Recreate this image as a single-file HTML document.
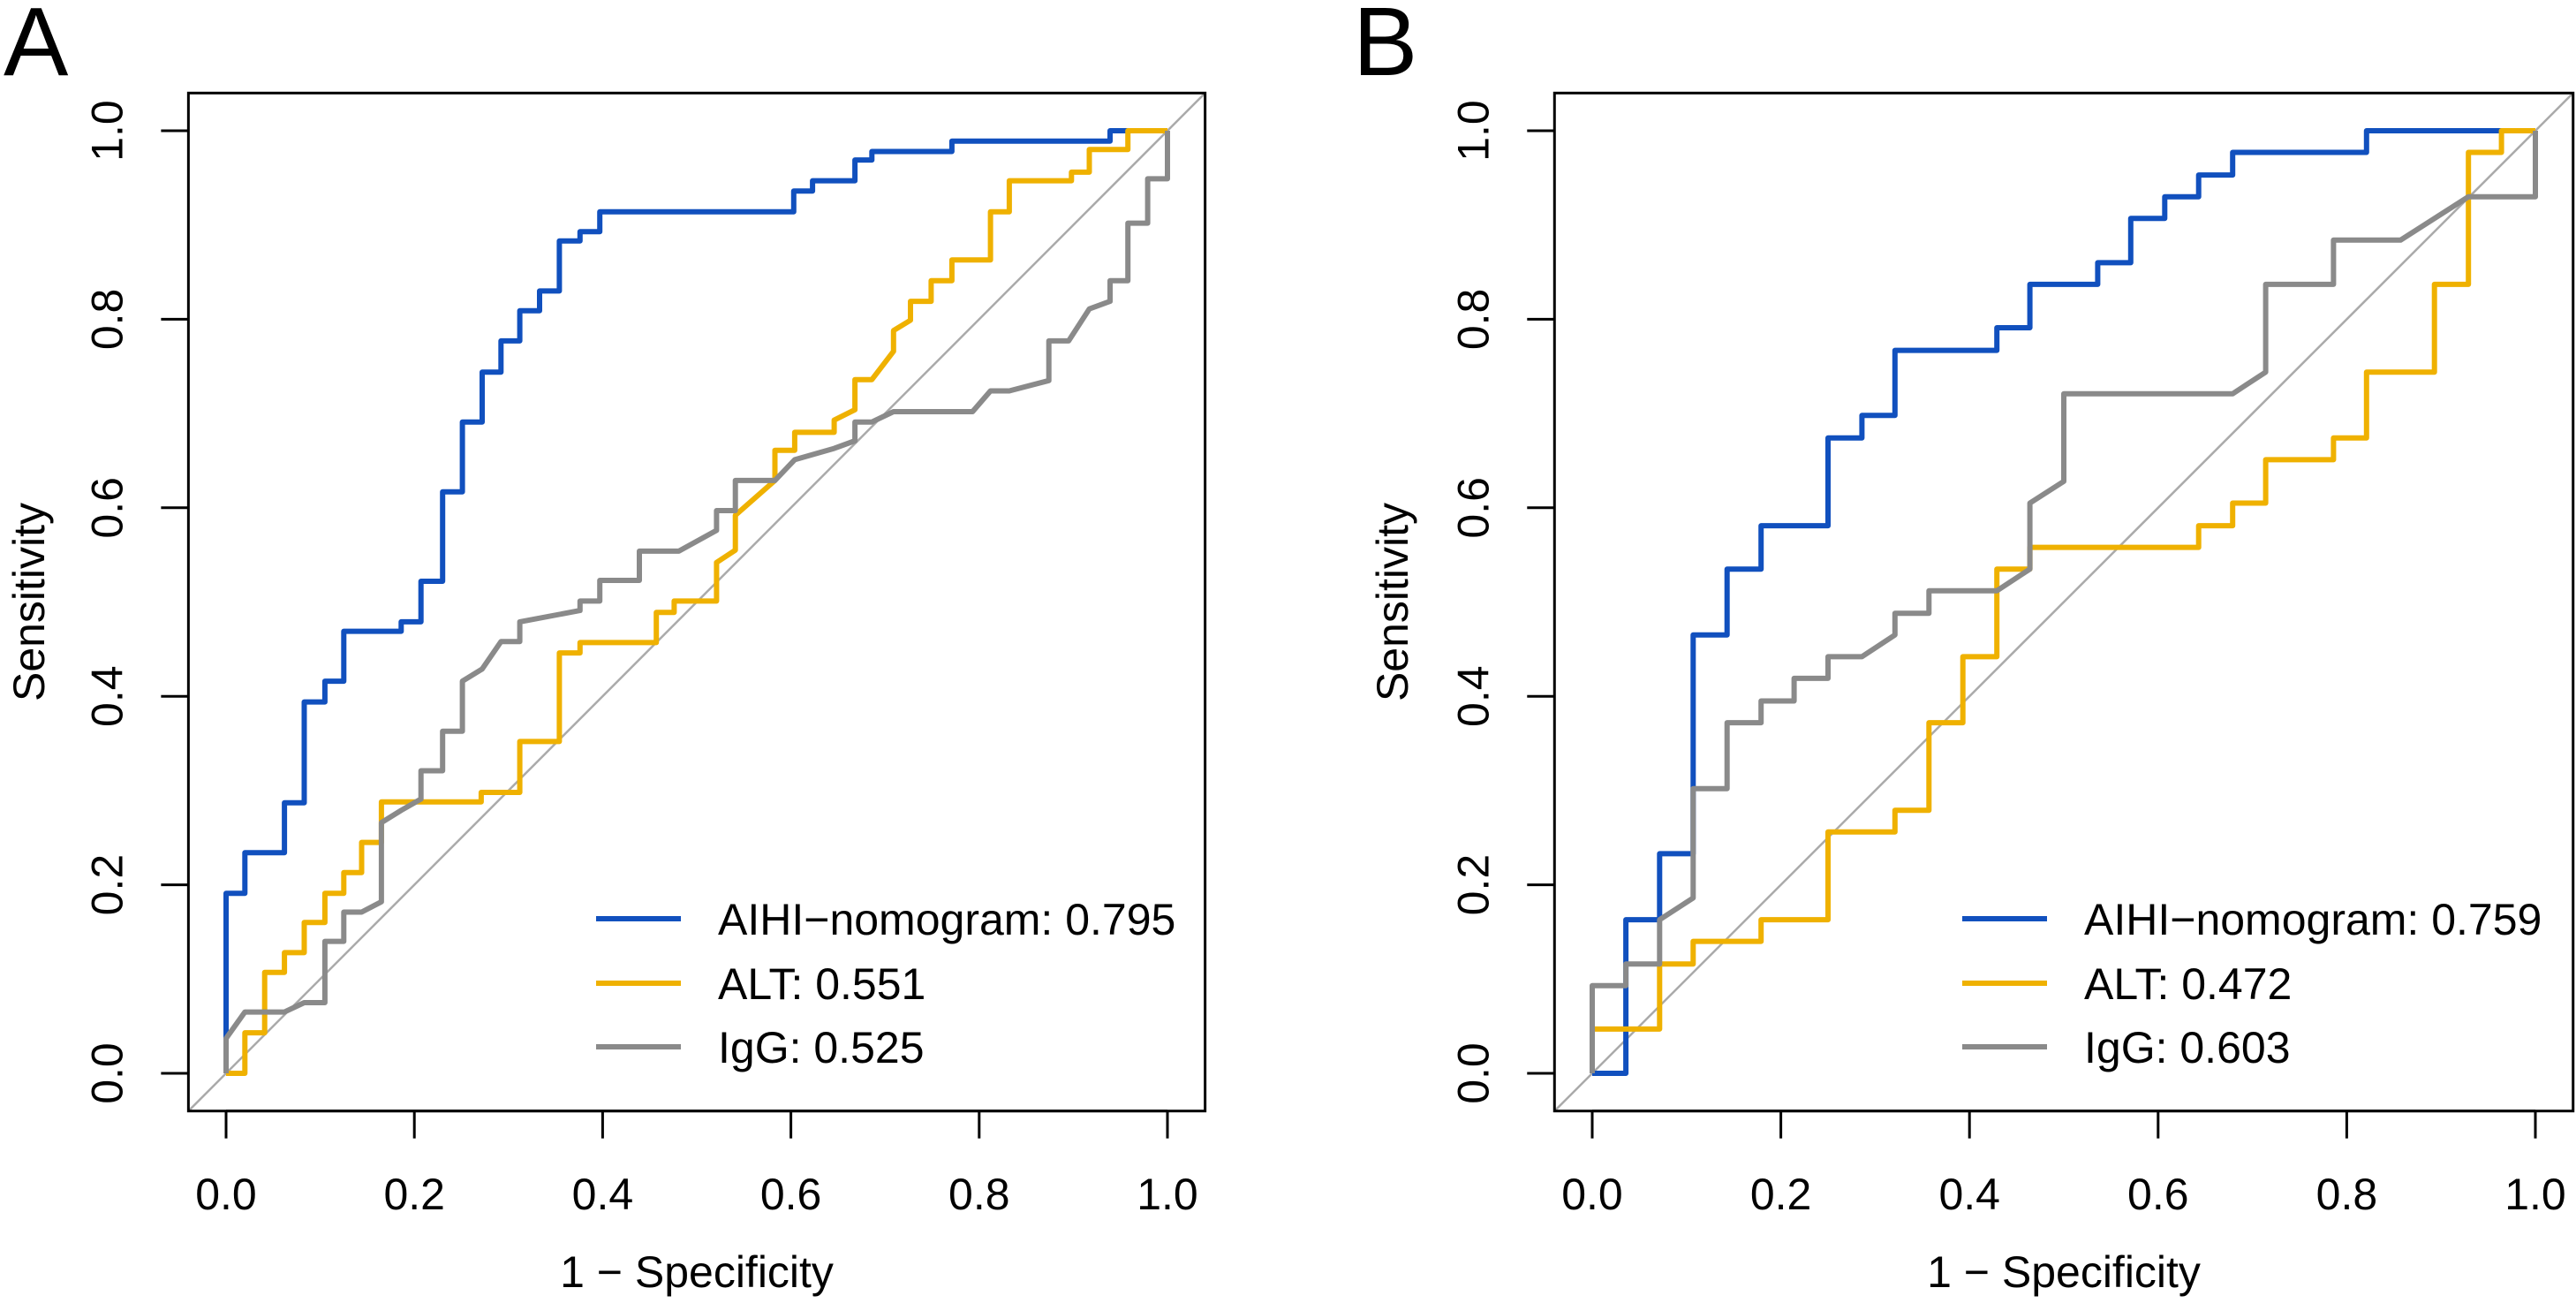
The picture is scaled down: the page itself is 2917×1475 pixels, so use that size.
<!DOCTYPE html>
<html><head><meta charset="utf-8"><style>
html,body{margin:0;padding:0;background:#fff;}
svg{display:block;font-family:"Liberation Sans",Arial,sans-serif;}
</style></head><body>
<svg id="chart" width="2917" height="1475" viewBox="0 0 2917 1475" xmlns="http://www.w3.org/2000/svg"></svg>
<script>
// ---- Data ----
const xTicks = [0, 0.2, 0.4, 0.6, 0.8, 1.0];
const xTickLabels = ["0.0","0.2","0.4","0.6","0.8","1.0"];
const yTicks = [0, 0.2, 0.4, 0.6, 0.8, 1.0];
const yTickLabels = ["0.0","0.2","0.4","0.6","0.8","1.0"];

const aBlueFpr = [0,0,0.020,0.020,0.062,0.062,0.083,0.083,0.105,0.105,0.125,0.125,0.186,0.186,0.207,0.207,0.230,0.230,0.251,0.251,0.272,0.272,0.292,0.292,0.312,0.312,0.333,0.333,0.354,0.354,0.376,0.376,0.397,0.397,0.603,0.603,0.623,0.623,0.668,0.668,0.686,0.686,0.771,0.771,0.939,0.939,1];
const aBlueTpr = [0,0.191,0.191,0.234,0.234,0.287,0.287,0.394,0.394,0.416,0.416,0.469,0.469,0.479,0.479,0.522,0.522,0.617,0.617,0.691,0.691,0.744,0.744,0.777,0.777,0.809,0.809,0.830,0.830,0.883,0.883,0.893,0.893,0.914,0.914,0.936,0.936,0.947,0.947,0.969,0.969,0.978,0.978,0.989,0.989,1,1];
const aAltFpr = [0,0.020,0.020,0.041,0.041,0.062,0.062,0.083,0.083,0.105,0.105,0.125,0.125,0.144,0.144,0.165,0.165,0.271,0.271,0.312,0.312,0.354,0.354,0.376,0.376,0.457,0.457,0.476,0.476,0.521,0.521,0.541,0.541,0.583,0.583,0.604,0.604,0.646,0.646,0.668,0.668,0.686,0.709,0.709,0.727,0.727,0.749,0.749,0.771,0.771,0.812,0.812,0.832,0.832,0.898,0.898,0.917,0.917,0.958,0.958,1];
const aAltTpr = [0,0,0.043,0.043,0.107,0.107,0.128,0.128,0.160,0.160,0.191,0.191,0.213,0.213,0.245,0.245,0.288,0.288,0.298,0.298,0.352,0.352,0.446,0.446,0.457,0.457,0.489,0.489,0.501,0.501,0.542,0.555,0.592,0.629,0.661,0.661,0.680,0.680,0.693,0.704,0.736,0.736,0.766,0.788,0.799,0.819,0.819,0.841,0.841,0.863,0.863,0.914,0.914,0.947,0.947,0.956,0.956,0.980,0.980,1,1];
const aIggFpr = [0,0,0.020,0.062,0.083,0.105,0.105,0.125,0.125,0.144,0.165,0.165,0.186,0.207,0.207,0.230,0.230,0.251,0.251,0.272,0.292,0.312,0.312,0.376,0.376,0.397,0.397,0.439,0.439,0.481,0.521,0.521,0.541,0.541,0.583,0.604,0.646,0.668,0.668,0.686,0.709,0.793,0.812,0.832,0.874,0.874,0.895,0.917,0.939,0.939,0.958,0.958,0.979,0.979,1,1];
const aIggTpr = [0,0.037,0.065,0.065,0.075,0.075,0.140,0.140,0.171,0.171,0.182,0.266,0.279,0.291,0.321,0.321,0.363,0.363,0.416,0.429,0.458,0.458,0.479,0.491,0.501,0.501,0.523,0.523,0.554,0.554,0.576,0.597,0.597,0.629,0.629,0.651,0.663,0.671,0.691,0.691,0.702,0.702,0.724,0.724,0.735,0.777,0.777,0.811,0.819,0.841,0.841,0.902,0.902,0.949,0.949,1];

const bBlueFpr = [0,0.0357,0.0357,0.0714,0.0714,0.107,0.107,0.143,0.143,0.179,0.179,0.25,0.25,0.286,0.286,0.321,0.321,0.429,0.429,0.464,0.464,0.536,0.536,0.571,0.571,0.607,0.607,0.643,0.643,0.679,0.679,0.821,0.821,1];
const bBlueTpr = [0,0,0.163,0.163,0.233,0.233,0.465,0.465,0.535,0.535,0.581,0.581,0.674,0.674,0.698,0.698,0.767,0.767,0.791,0.791,0.837,0.837,0.860,0.860,0.907,0.907,0.930,0.930,0.953,0.953,0.977,0.977,1,1];
const bAltFpr = [0,0,0.0714,0.0714,0.107,0.107,0.179,0.179,0.25,0.25,0.321,0.321,0.357,0.357,0.393,0.393,0.429,0.429,0.464,0.464,0.643,0.643,0.679,0.679,0.714,0.714,0.786,0.786,0.821,0.821,0.893,0.893,0.929,0.929,0.964,0.964,1];
const bAltTpr = [0,0.047,0.047,0.116,0.116,0.140,0.140,0.163,0.163,0.256,0.256,0.279,0.279,0.372,0.372,0.442,0.442,0.535,0.535,0.558,0.558,0.581,0.581,0.605,0.605,0.651,0.651,0.674,0.674,0.744,0.744,0.837,0.837,0.977,0.977,1,1];
const bIggFpr = [0,0,0.0357,0.0357,0.0714,0.0714,0.107,0.107,0.143,0.143,0.179,0.179,0.214,0.214,0.25,0.25,0.286,0.321,0.321,0.357,0.357,0.429,0.464,0.464,0.5,0.5,0.679,0.714,0.714,0.786,0.786,0.857,0.929,1,1];
const bIggTpr = [0,0.093,0.093,0.116,0.116,0.163,0.186,0.302,0.302,0.372,0.372,0.395,0.395,0.419,0.419,0.442,0.442,0.465,0.488,0.488,0.512,0.512,0.535,0.605,0.628,0.721,0.721,0.744,0.837,0.837,0.884,0.884,0.930,0.930,1];

const aLegendLabels = ["AIHI\u2212nomogram: 0.795","ALT: 0.551","IgG: 0.525"];
const bLegendLabels = ["AIHI\u2212nomogram: 0.759","ALT: 0.472","IgG: 0.603"];

const COLORS = ["#1150BE","#EFB100","#8A8A8A"];
const NS = "http://www.w3.org/2000/svg";
const svg = document.getElementById("chart");

function mk(tag, attrs, parent) {
  const e = document.createElementNS(NS, tag);
  for (const k in attrs) e.setAttribute(k, attrs[k]);
  (parent || svg).appendChild(e);
  return e;
}

function panel(cfg) {
  const g = mk("g", {});
  
  
  const x0 = cfg.x0, x1 = cfg.x1, y0 = 1215, y1 = 148;
  const sx = v => x0 + v * (x1 - x0);
  const sy = v => y0 - v * (y0 - y1);
  const bl = sx(-0.04), br = sx(1.04), bt = sy(1.04), bb = sy(-0.04);

  // diagonal
  const diag = mk("line", {x1: bl, y1: bb, x2: br, y2: bt, stroke: "#AAAAAA", "stroke-width": 2.5}, g);
  
  

  // curves
  cfg.series.forEach((s, i) => {
    let d = "";
    for (let k = 0; k < s.fpr.length; k++) d += (k ? "L" : "M") + sx(s.fpr[k]).toFixed(1) + " " + sy(s.tpr[k]).toFixed(1);
    const p = mk("path", {d: d, fill: "none", stroke: COLORS[i], "stroke-width": 6, "stroke-linejoin": "round"}, g);
    
    
  });

  // box
  const box = mk("rect", {x: bl, y: bt, width: br - bl, height: bb - bt, fill: "none", stroke: "#000", "stroke-width": 3}, g);
  
  

  // x ticks
  const xa = mk("g", {}, g);
  
  
  mk("line", {x1: sx(0), y1: bb, x2: sx(1), y2: bb, stroke: "#000", "stroke-width": 3}, xa);
  xTicks.forEach((t, i) => {
    mk("line", {x1: sx(t), y1: bb, x2: sx(t), y2: bb + 31, stroke: "#000", "stroke-width": 3}, xa);
    const tx = mk("text", {x: sx(t), y: 1369, "font-size": 50, "text-anchor": "middle", fill: "#000"}, xa);
    tx.textContent = xTickLabels[i];
    
    
  });
  // y ticks
  const ya = mk("g", {}, g);
  
  
  yTicks.forEach((t, i) => {
    mk("line", {x1: bl, y1: sy(t), x2: bl - 31, y2: sy(t), stroke: "#000", "stroke-width": 3}, ya);
    const lx = bl - 75;
    const tx = mk("text", {x: lx, y: sy(t), "font-size": 50, "text-anchor": "middle", fill: "#000", transform: `rotate(-90 ${lx} ${sy(t)})`}, ya);
    tx.textContent = yTickLabels[i];
    
    
  });
  // axis titles
  const cx = (sx(0) + sx(1)) / 2;
  const xt = mk("text", {x: cx, y: 1457, "font-size": 50, "text-anchor": "middle", fill: "#000"}, g);
  xt.textContent = "1 \u2212 Specificity";
  
  
  const ycy = (y0 + y1) / 2, yx = cfg.ylabX;
  const yt = mk("text", {x: yx, y: ycy, "font-size": 50, "text-anchor": "middle", fill: "#000", transform: `rotate(-90 ${yx} ${ycy})`}, g);
  yt.textContent = "Sensitivity";
  
  

  // panel letter
  const pl = mk("text", {x: cfg.letterX, y: 85, "font-size": 110, fill: "#000"}, g);
  pl.textContent = cfg.letter;
  
  

  // legend
  const lg = mk("g", {}, g);
  
  
  const rows = [1040, 1113, 1185];
  cfg.legend.forEach((lab, i) => {
    const ln = mk("line", {x1: cfg.legX, y1: rows[i], x2: cfg.legX + 96, y2: rows[i], stroke: COLORS[i], "stroke-width": 6}, lg);
    
    
    const tx = mk("text", {x: cfg.legX + 138, y: rows[i] + 18, "font-size": 50, fill: "#000"}, lg);
    tx.textContent = lab;
    
    
  });
}

panel({name: "panel-a", letter: "A", letterX: 4, x0: 256, x1: 1322, ylabX: 50, legX: 675, legend: aLegendLabels,
  series: [{name: "aihi-nomogram-curve", fpr: aBlueFpr, tpr: aBlueTpr},
           {name: "alt-curve", fpr: aAltFpr, tpr: aAltTpr},
           {name: "igg-curve", fpr: aIggFpr, tpr: aIggTpr}]});
panel({name: "panel-b", letter: "B", letterX: 1532, x0: 1803, x1: 2871, ylabX: 1594, legX: 2222, legend: bLegendLabels,
  series: [{name: "aihi-nomogram-curve", fpr: bBlueFpr, tpr: bBlueTpr},
           {name: "alt-curve", fpr: bAltFpr, tpr: bAltTpr},
           {name: "igg-curve", fpr: bIggFpr, tpr: bIggTpr}]});
</script>
</body></html>
